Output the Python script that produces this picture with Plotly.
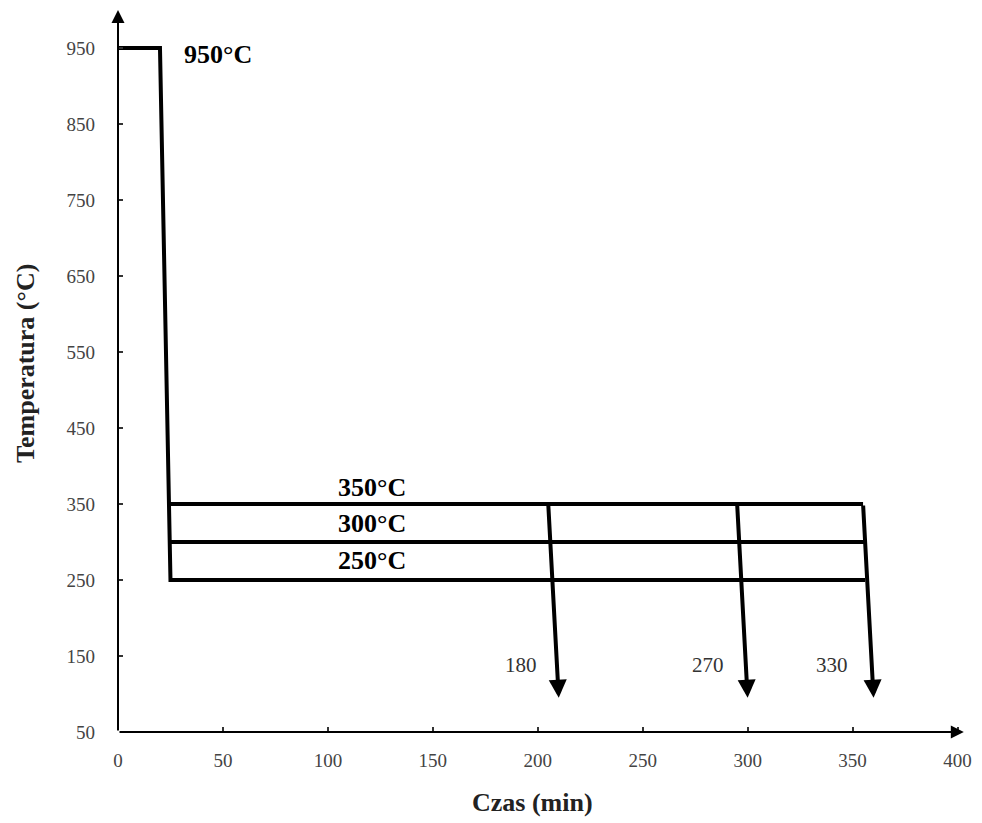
import plotly.graph_objects as go

# --- data ---
hold_x = [0, 20]          # austenitizing hold (min)
hold_temp = 950           # °C
drop_end_x = 25           # end of quench to isothermal bath
iso_temps = [250, 300, 350]
iso_labels = ["250°C", "300°C", "350°C"]
iso_label_x = 121
iso_label_y = [276, 325, 372]
iso_end_x = 356
quench_start_x = [205, 295, 355]
quench_end_x = [210, 300, 360]
quench_end_temp = 95
quench_labels = ["180", "270", "330"]
quench_label_x = [192, 281, 340]
quench_label_y = 138

x_ticks = [0, 50, 100, 150, 200, 250, 300, 350, 400]
y_ticks = [50, 150, 250, 350, 450, 550, 650, 750, 850, 950]

SERIF = "Liberation Serif"
LW = 4
TITLE_SIZE = 26

fig = go.Figure()

# main path: hold then drop to the lowest isothermal line
low = min(iso_temps)
fig.add_trace(go.Scatter(
    x=[hold_x[0], hold_x[1], drop_end_x, iso_end_x],
    y=[hold_temp, hold_temp, low, low],
    mode="lines", line=dict(color="black", width=LW), showlegend=False,
    hoverinfo="skip"))

# other isothermal lines start on the drop line
for t in iso_temps:
    if t == low:
        continue
    frac = (hold_temp - t) / (hold_temp - low)
    xs = hold_x[1] + frac * (drop_end_x - hold_x[1])
    end = iso_end_x if t != max(iso_temps) else quench_start_x[-1]
    fig.add_trace(go.Scatter(
        x=[xs, end], y=[t, t], mode="lines",
        line=dict(color="black", width=LW), showlegend=False, hoverinfo="skip"))

annotations = []
# quench arrows
top = max(iso_temps)
for xs, xe in zip(quench_start_x, quench_end_x):
    annotations.append(dict(
        x=xe, y=quench_end_temp, ax=xs, ay=top, xref="x", yref="y",
        axref="x", ayref="y", showarrow=True, arrowhead=2, arrowsize=0.9,
        arrowwidth=LW, arrowcolor="black", text=""))

# axis arrows
annotations.append(dict(x=0, y=1000, ax=0, ay=50, xref="x", yref="y", axref="x", ayref="y",
                        showarrow=True, arrowhead=2, arrowsize=1.3, arrowwidth=2,
                        arrowcolor="black", text=""))
annotations.append(dict(x=403, y=50, ax=0, ay=50, xref="x", yref="y", axref="x", ayref="y",
                        showarrow=True, arrowhead=2, arrowsize=1.3, arrowwidth=2,
                        arrowcolor="black", text=""))

# labels
annotations.append(dict(x=47.6, y=941, xref="x", yref="y", text="<b>950°C</b>", showarrow=False,
                        xanchor="center", yanchor="middle",
                        font=dict(family=SERIF, size=TITLE_SIZE, color="black")))
for ly, lab in zip(iso_label_y, iso_labels):
    annotations.append(dict(x=iso_label_x, y=ly, xref="x", yref="y", text=f"<b>{lab}</b>",
                            showarrow=False, xanchor="center", yanchor="middle",
                            font=dict(family=SERIF, size=TITLE_SIZE, color="black")))
for lx, lab in zip(quench_label_x, quench_labels):
    annotations.append(dict(x=lx, y=quench_label_y, xref="x", yref="y", text=lab, showarrow=False,
                            xanchor="center", yanchor="middle",
                            font=dict(family=SERIF, size=21, color="#333333")))

# axis titles
annotations.append(dict(x=-0.108, y=0.51, xref="paper", yref="paper", text="<b>Temperatura (°C)</b>",
                        textangle=-90, showarrow=False, xanchor="center", yanchor="middle",
                        font=dict(family=SERIF, size=TITLE_SIZE, color="#222222")))
annotations.append(dict(x=0.488, y=-0.097, xref="paper", yref="paper", text="<b>Czas (min)</b>",
                        showarrow=False, xanchor="center", yanchor="middle",
                        font=dict(family=SERIF, size=TITLE_SIZE, color="#222222")))

fig.update_layout(
    width=982, height=823,
    margin=dict(l=118, r=14, t=10, b=91),
    plot_bgcolor="white", paper_bgcolor="white",
    annotations=annotations,
    xaxis=dict(range=[0, 405], tickvals=x_ticks, ticktext=[str(v) for v in x_ticks],
               showgrid=False, zeroline=False, showline=False, ticks="inside", ticklen=5,
               tickwidth=2, tickcolor="#333333", ticklabelstandoff=15,
               tickfont=dict(family=SERIF, size=19, color="#444444")),
    yaxis=dict(range=[50, 1000], tickvals=y_ticks, ticktext=[str(v) for v in y_ticks],
               showgrid=False, zeroline=False, showline=False, ticks="inside", ticklen=5,
               tickwidth=2, tickcolor="#333333", ticklabelstandoff=22,
               tickfont=dict(family=SERIF, size=19, color="#444444")),
)

fig.write_html("out.html")
